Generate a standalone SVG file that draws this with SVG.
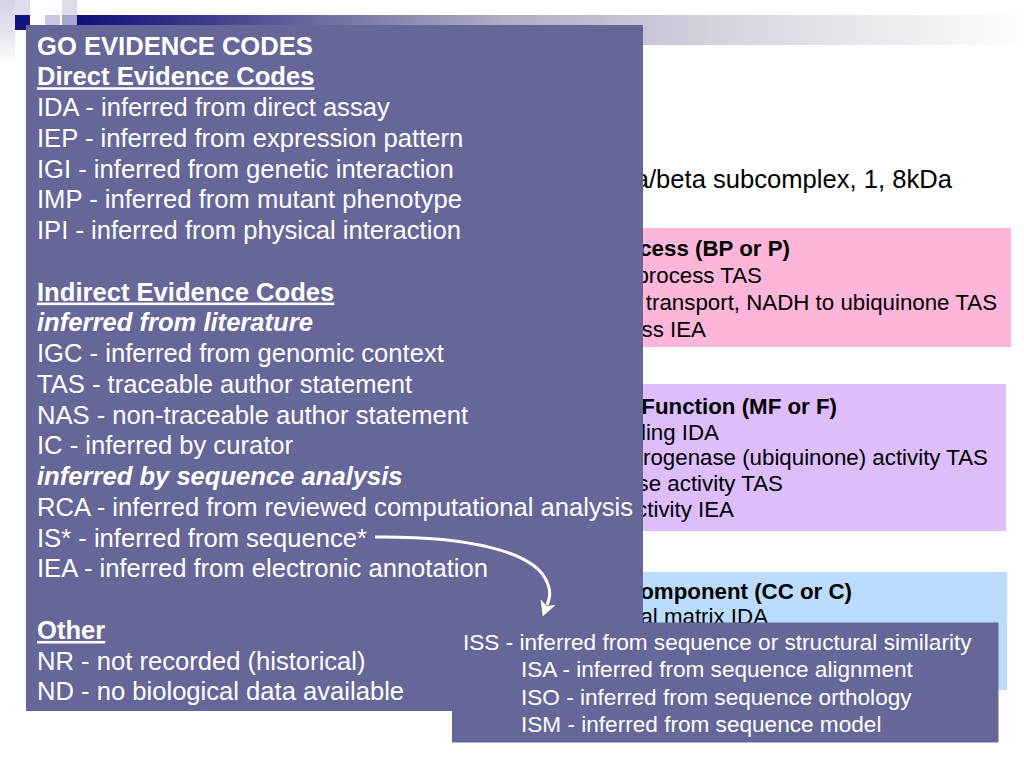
<svg xmlns="http://www.w3.org/2000/svg" width="1024" height="768" viewBox="0 0 1024 768">
<style>
.main{font-family:"Liberation Sans",Arial,sans-serif;font-size:25.6px;fill:#ffffff}
.b{font-weight:bold}
.u{text-decoration:underline}
.bi{font-weight:bold;font-style:italic}
.rt{font-family:"Liberation Sans",Arial,sans-serif;font-size:22.3px;fill:#000000}
.iss{font-family:"Liberation Sans",Arial,sans-serif;font-size:22.6px;fill:#ffffff}
.panel{fill:#666699}
</style>
<defs>
<linearGradient id="bar" x1="77" y1="0" x2="1024" y2="0" gradientUnits="userSpaceOnUse">
<stop offset="0" stop-color="#10107a"/>
<stop offset="0.13" stop-color="#3a3a8a"/>
<stop offset="0.27" stop-color="#7272a2"/>
<stop offset="0.45" stop-color="#aeaec4"/>
<stop offset="0.6" stop-color="#c6c6d6"/>
<stop offset="0.68" stop-color="#d4d4de"/>
<stop offset="1" stop-color="#fdfdfd"/>
</linearGradient>
<linearGradient id="strip" x1="0" y1="0" x2="0" y2="1">
<stop offset="0" stop-color="#d4d4e6"/>
<stop offset="0.5" stop-color="#e4e4ef"/>
<stop offset="1" stop-color="#ffffff"/>
</linearGradient>
<marker id="arr" viewBox="0 -8 15 16" refX="3" refY="0" markerWidth="15" markerHeight="16" markerUnits="userSpaceOnUse" orient="auto">
<path d="M0,-8 L15,0 L0,8 L4,0 Z" fill="#ffffff"/>
</marker>
</defs>
<rect width="1024" height="768" fill="#ffffff"/>
<g id="decor">
<rect x="0" y="0" width="15" height="65" fill="url(#strip)"/>
<rect x="15" y="0" width="15" height="15" fill="#dcdcec"/>
<rect x="62" y="0" width="15" height="15" fill="#dcdcea"/>
<rect x="15" y="15" width="15" height="15" fill="#14147e"/>
<rect x="45" y="15" width="15" height="15" fill="#c8c8e0"/>
<rect x="62" y="15" width="15" height="15" fill="#a6a6cf"/>
<rect x="77" y="15" width="947" height="30" fill="url(#bar)"/>
</g>
<g id="gene-name">
<text class="main" x="952" y="188" text-anchor="end" style="fill:#000000">a/beta subcomplex, 1, 8kDa</text>
</g>
<g id="bp-box">
<rect x="600" y="228" width="411" height="119" fill="#fdb6da"/>
<text class="rt b" x="790" y="256" text-anchor="end">cess (BP or P)</text>
<text class="rt" x="762" y="283" text-anchor="end">process TAS</text>
<text class="rt" x="997" y="310" text-anchor="end">transport, NADH to ubiquinone TAS</text>
<text class="rt" x="706" y="337" text-anchor="end">ss IEA</text>
</g>
<g id="mf-box">
<rect x="600" y="384" width="406" height="147" fill="#ddbdfb"/>
<text class="rt b" x="837" y="414" text-anchor="end">Function (MF or F)</text>
<text class="rt" x="719" y="439.5" text-anchor="end">ling IDA</text>
<text class="rt" x="988" y="465" text-anchor="end">rogenase (ubiquinone) activity TAS</text>
<text class="rt" x="783" y="491" text-anchor="end">se activity TAS</text>
<text class="rt" x="734" y="517" text-anchor="end">ctivity IEA</text>
</g>
<g id="cc-box">
<rect x="600" y="572" width="407" height="118" fill="#bbdcfc"/>
<text class="rt b" x="852" y="598.5" text-anchor="end">omponent (CC or C)</text>
<text class="rt" x="768" y="624" text-anchor="end">al matrix IDA</text>
</g>
<g id="evidence-codes">
<rect class="panel" x="26" y="25" width="617" height="686"/>
<text class="main" x="37" y="54.5">
<tspan x="37" class="b">GO EVIDENCE CODES</tspan>
<tspan x="37" dy="30.76" class="b u">Direct Evidence Codes</tspan>
<tspan x="37" dy="30.76">IDA - inferred from direct assay</tspan>
<tspan x="37" dy="30.76">IEP - inferred from expression pattern</tspan>
<tspan x="37" dy="30.76">IGI - inferred from genetic interaction</tspan>
<tspan x="37" dy="30.76">IMP - inferred from mutant phenotype</tspan>
<tspan x="37" dy="30.76">IPI - inferred from physical interaction</tspan>
<tspan x="37" dy="61.52" class="b u">Indirect Evidence Codes</tspan>
<tspan x="37" dy="30.76" class="bi">inferred from literature</tspan>
<tspan x="37" dy="30.76">IGC - inferred from genomic context</tspan>
<tspan x="37" dy="30.76">TAS - traceable author statement</tspan>
<tspan x="37" dy="30.76">NAS - non-traceable author statement</tspan>
<tspan x="37" dy="30.76">IC - inferred by curator</tspan>
<tspan x="37" dy="30.76" class="bi">inferred by sequence analysis</tspan>
<tspan x="37" dy="30.76">RCA - inferred from reviewed computational analysis</tspan>
<tspan x="37" dy="30.76">IS* - inferred from sequence*</tspan>
<tspan x="37" dy="30.76">IEA - inferred from electronic annotation</tspan>
<tspan x="37" dy="61.52" class="b u">Other</tspan>
<tspan x="37" dy="30.76">NR - not recorded (historical)</tspan>
<tspan x="37" dy="30.76">ND - no biological data available</tspan>
</text>
</g>
<g id="iss-box">
<rect class="panel" x="452" y="622.5" width="546.5" height="120"/>
<text class="iss" x="463" y="650">ISS - inferred from sequence or structural similarity</text>
<text class="iss" x="521" y="677.3">ISA - inferred from sequence alignment</text>
<text class="iss" x="521" y="704.6">ISO - inferred from sequence orthology</text>
<text class="iss" x="521" y="731.9">ISM - inferred from sequence model</text>
</g>
<g id="connectors">
<path d="M375,537 C470,536 530,552 545,578 C552,591 550,597 547,605" fill="none" stroke="#ffffff" stroke-width="3" marker-end="url(#arr)"/>
</g>
</svg>
